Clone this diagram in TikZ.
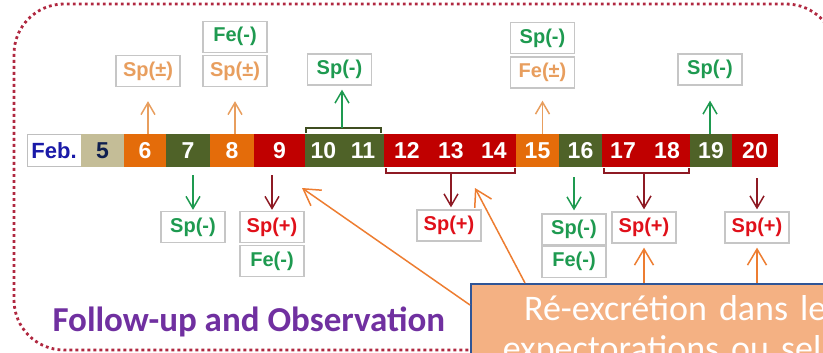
\documentclass[tikz,border=0pt]{standalone}
\usepackage{xcolor}
\usepackage{fontspec}
\setmainfont{Liberation Sans}
\newfontfamily\calibri{Carlito}
\usepackage{tikz}
\usetikzlibrary{positioning,arrows.meta}

\definecolor{tanc}{HTML}{C4BD97}
\definecolor{orangec}{HTML}{E46C0A}
\definecolor{greenc}{HTML}{4F6228}
\definecolor{redc}{HTML}{C00000}
\definecolor{febblue}{HTML}{1A1AA8}
\definecolor{navy}{HTML}{0F1F4F}
\definecolor{tanlbl}{HTML}{E89E5E}
\definecolor{greenlbl}{HTML}{1E9A50}
\definecolor{redlbl}{HTML}{E0101A}
\definecolor{darkred}{HTML}{8E1A24}
\definecolor{framered}{HTML}{B02840}
\definecolor{calloutfill}{HTML}{F4B183}
\definecolor{calloutblue}{HTML}{2F5597}
\definecolor{callarrow}{HTML}{ED7D31}
\definecolor{purplec}{HTML}{7030A0}

\begin{document}
\begin{tikzpicture}[x=1pt,y=-1pt,
cell/.style={minimum height=33pt,inner sep=0pt,outer sep=0pt,text=white,
  font=\bfseries\fontsize{23}{23}\selectfont},
lbl/.style={draw=gray!45,line width=1.3pt,fill=white,minimum width=64pt,
  minimum height=31pt,inner sep=0pt,font=\bfseries\fontsize{20}{20}\selectfont},
up/.style={-{Straight Barb[length=12pt,width=14pt]},line width=1.5pt},
dn/.style={-{Straight Barb[length=12pt,width=14pt]},line width=1.5pt},
callarr/.style={-{Straight Barb[length=16pt,width=19pt]},line width=1.5pt,callarrow},
callout/.style={fill=calloutfill,draw=calloutblue,line width=1.5pt,text=white,
  font=\calibri\fontsize{36}{40}\selectfont,align=center,text width=423pt,
  inner xsep=0pt,inner ysep=12pt}]

\clip (0,0) rectangle (823,353);
\draw[framered,line width=2.8pt,dash pattern=on 2.8pt off 3.2pt,rounded corners=50pt]
  (14,4) rectangle (836,350);

% the days of February
\node[draw=gray!50,line width=1pt,fill=white,outer sep=0pt,minimum width=54pt,
  minimum height=31pt,inner sep=0pt,text=febblue,font=\bfseries\fontsize{22}{22}\selectfont]
  (feb) at (54,150.5) {Feb.};
\node[cell,fill=tanc,text=navy,minimum width=43pt,right=0pt of feb] (c5) {5};
\node[cell,fill=orangec,minimum width=42pt,right=0pt of c5] (c6) {6};
\node[cell,fill=greenc,minimum width=44pt,right=0pt of c6] (c7) {7};
\node[cell,fill=orangec,minimum width=44pt,right=0pt of c7] (c8) {8};
\node[cell,fill=redc,minimum width=51pt,right=0pt of c8] (c9) {9};
\node[cell,fill=greenc,minimum width=37pt,right=0pt of c9] (c10) {10};
\node[cell,fill=greenc,minimum width=42pt,right=0pt of c10] (c11) {11};
\node[cell,fill=redc,minimum width=46pt,right=0pt of c11] (c12) {12};
\node[cell,fill=redc,minimum width=42pt,right=0pt of c12] (c13) {13};
\node[cell,fill=redc,minimum width=44pt,right=0pt of c13] (c14) {14};
\node[cell,fill=orangec,minimum width=43pt,right=0pt of c14] (c15) {15};
\node[cell,fill=greenc,minimum width=43pt,right=0pt of c15] (c16) {16};
\node[cell,fill=redc,minimum width=42pt,right=0pt of c16] (c17) {17};
\node[cell,fill=redc,minimum width=46pt,right=0pt of c17] (c18) {18};
\node[cell,fill=greenc,minimum width=42pt,right=0pt of c18] (c19) {19};
\node[cell,fill=redc,minimum width=46pt,right=0pt of c19] (c20) {20};

% results above
\node[lbl,text=tanlbl] (s6) at (148,71) {Sp(±)};
\node[lbl,text=tanlbl] (s8) at (235,71) {Sp(±)};
\node[lbl,text=greenlbl,above=2pt of s8] (f8) {Fe(-)};
\node[lbl,text=greenlbl] (s1011) at (339.5,69.5) {Sp(-)};
\node[lbl,text=tanlbl] (f15) at (542.5,72.5) {Fe(±)};
\node[lbl,text=greenlbl,above=2pt of f15] (s15) {Sp(-)};
\node[lbl,text=greenlbl] (s19) at (710,69.5) {Sp(-)};

% results below
\node[lbl,text=greenlbl] (s7) at (193,227) {Sp(-)};
\node[lbl,text=redlbl] (s9) at (272,227) {Sp(+)};
\node[lbl,text=greenlbl,below=2pt of s9] (f9) {Fe(-)};
\node[lbl,text=redlbl] (s1214) at (449,225.5) {Sp(+)};
\node[lbl,text=greenlbl] (s16) at (574,229.5) {Sp(-)};
\node[lbl,text=greenlbl,below=0pt of s16] (f16) {Fe(-)};
\node[lbl,text=redlbl] (s1718) at (644,227.5) {Sp(+)};
\node[lbl,text=redlbl] (s20) at (757,227.5) {Sp(+)};

\draw[up,tanlbl,shorten >=14pt] (s6.south |- c6.north) -- (s6.south);
\draw[up,tanlbl,shorten >=14pt] (s8.south |- c8.north) -- (s8.south);
\draw[up,tanlbl,shorten >=12pt] (f15.south |- c15.north) -- (f15.south);
\draw[up,greenlbl,shorten >=15pt] (s19.south |- c19.north) -- (s19.south);
\draw[greenc!80!black,line width=1.5pt] ([xshift=1pt,yshift=1pt]c10.north west)
  |- ([yshift=6pt]c10.north east) coordinate (b1011) -| ([xshift=-3pt,yshift=1pt]c11.north east);
\draw[up,greenlbl,shorten >=4pt] (b1011) -- (b1011 |- s1011.south);

\draw[dn,greenlbl,shorten <=8pt,shorten >=1pt] (s7.north |- c7.south) -- (s7.north);
\draw[dn,darkred,shorten <=8pt,shorten >=1pt] (s9.north |- c9.south) -- (s9.north);
\draw[darkred,line width=1.5pt] ([xshift=2pt,yshift=-1pt]c12.south west)
  |- ([yshift=-6pt]c13.south) coordinate (b1214) -| ([xshift=-1pt,yshift=-1pt]c14.south east);
\draw[dn,darkred,shorten >=2pt] (b1214) -- (b1214 |- s1214.north);
\draw[dn,greenlbl,shorten <=10pt,shorten >=3pt] (s16.north |- c16.south) -- (s16.north);
\draw[darkred,line width=1.5pt] ([xshift=2pt,yshift=-1pt]c17.south west)
  |- ([yshift=-6pt]c17.south east) coordinate (b1718) -| ([xshift=-1pt,yshift=-1pt]c18.south east);
\draw[dn,darkred,shorten >=2pt] (b1718) -- (b1718 |- s1718.north);
\draw[dn,darkred,shorten <=11pt,shorten >=2pt] (s20.north |- c20.south) -- (s20.north);

\node[font=\calibri\bfseries\fontsize{35}{35}\selectfont,text=purplec,anchor=base west]
  (title) at (49,331) {Follow-up and Observation};

% the call-out and its pointers
\node[callout,anchor=north west] (callout) at (470,283) {Ré-excrétion dans les\\expectorations ou selles};
\coordinate (t9) at (302,188);
\coordinate (t14) at (475,188);
\draw[callarr] ([yshift=-22pt]callout.north west) -- (t9);
\draw[callarr] ([xshift=55pt]callout.north west) -- (t14);
\draw[callarr,shorten >=4pt] (s1718.south |- callout.north) -- (s1718.south);
\draw[callarr,shorten >=4pt] (s20.south |- callout.north) -- (s20.south);
\end{tikzpicture}
\end{document}
